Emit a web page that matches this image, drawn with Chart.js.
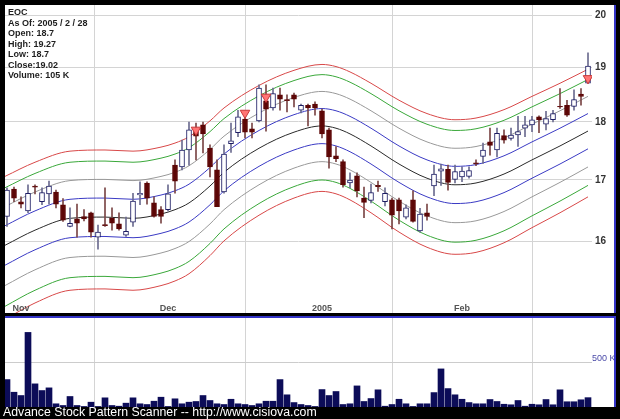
<!DOCTYPE html>
<html>
<head>
<meta charset="utf-8">
<script src="https://cdn.jsdelivr.net/npm/chart.js@4.4.1/dist/chart.umd.min.js"></script>
<style>
html, body { margin: 0; padding: 0; background: #000; }
body { width: 620px; height: 419px; position: relative; overflow: hidden; font-family: "Liberation Sans", Arial, sans-serif; }
#pricebox { position: absolute; left: 5px; top: 5px; width: 611px; height: 308px; background: #fff; border-right: 2px solid #3434c8; box-sizing: border-box; }
#volbox { position: absolute; left: 5px; top: 316px; width: 611px; height: 91px; background: #fff; border-top: 2px solid #3434c8; border-right: 2px solid #3434c8; box-sizing: border-box; }
#foot { position: absolute; left: 3px; top: 405px; color: #fff; font-size: 12.3px; white-space: nowrap; }
canvas { display: block; }
</style>
</head>
<body>
<div id="pricebox"><canvas id="price" width="609" height="308"></canvas></div>
<div id="volbox"><canvas id="volume" width="609" height="89"></canvas></div>
<div id="foot">Advance Stock Pattern Scanner -- http://www.cisiova.com</div>
<script>
/* data: EOC daily candles, 2004-10-28 .. 2005-02-28 (trading day index 0..83) */
var opens = [16.40,16.85,16.64,16.49,16.90,16.64,16.77,16.80,16.59,16.24,
  16.36,16.40,16.46,16.07,16.27,16.37,16.28,16.10,16.31,16.75,
  16.95,16.62,16.51,16.51,17.25,17.22,17.51,17.84,17.95,17.54,
  17.17,16.80,17.62,17.81,18.05,17.88,18.02,18.38,18.25,18.49,
  18.40,18.49,18.21,18.30,18.32,18.20,17.86,17.41,17.31,16.95,
  17.07,16.70,16.66,16.91,16.64,16.67,16.67,16.39,16.67,16.17,
  16.46,16.90,17.15,17.18,17.01,17.05,17.06,17.29,17.40,17.65,
  17.51,17.76,17.71,17.77,17.89,17.95,18.09,17.96,18.04,18.28,
  18.30,18.28,18.50,18.70];
var highs = [16.87,16.88,16.72,16.92,16.92,16.87,16.98,16.83,16.69,16.54,
  16.60,16.51,16.47,16.26,16.87,16.54,16.46,16.39,16.78,16.97,
  16.97,16.72,16.56,16.92,17.34,17.68,18.00,17.98,18.00,17.60,
  17.34,17.60,17.98,18.21,18.09,17.98,18.67,18.67,18.61,18.61,
  18.49,18.52,18.32,18.32,18.36,18.23,17.89,17.57,17.34,17.12,
  17.12,16.88,16.93,16.98,16.87,16.70,16.70,16.59,16.82,16.53,
  16.60,17.25,17.27,17.25,17.25,17.22,17.22,17.34,17.63,17.89,
  17.89,17.86,17.89,18.10,18.10,18.10,18.11,18.19,18.21,18.60,
  18.39,18.58,18.60,19.27];
var lows = [16.24,16.64,16.54,16.46,16.77,16.59,16.60,16.54,16.32,16.23,
  16.07,16.33,16.07,15.88,16.24,16.18,16.18,16.08,16.24,16.59,
  16.60,16.39,16.29,16.49,16.78,17.17,17.25,17.34,17.46,17.05,
  16.56,16.78,17.47,17.74,17.72,17.72,18.00,17.84,18.21,18.21,
  18.18,18.27,18.16,17.93,18.12,17.72,17.20,17.31,16.88,16.87,
  16.72,16.38,16.62,16.81,16.57,16.20,16.28,16.36,16.31,16.15,
  16.34,16.74,16.91,16.83,16.95,16.97,17.03,17.24,17.28,17.42,
  17.39,17.63,17.68,17.57,17.74,17.83,17.81,17.86,18.00,18.24,
  18.10,18.21,18.30,18.70];
var closes = [16.83,16.70,16.60,16.78,16.88,16.79,16.90,16.60,16.34,16.29,
  16.29,16.36,16.15,16.15,16.25,16.29,16.20,16.16,16.65,16.78,
  16.70,16.40,16.40,16.77,16.98,17.51,17.86,17.75,17.79,17.22,
  16.56,17.44,17.67,18.09,17.82,17.82,18.61,18.23,18.51,18.41,
  18.38,18.41,18.30,18.25,18.25,17.79,17.39,17.36,16.92,17.00,
  16.82,16.63,16.79,16.89,16.78,16.42,16.49,16.54,16.32,16.44,
  16.40,17.10,17.19,16.96,17.14,17.15,17.16,17.27,17.51,17.59,
  17.80,17.68,17.77,17.83,17.95,18.04,18.04,18.06,18.15,18.27,
  18.12,18.40,18.46,19.02];
// volume in thousands
var volumes = [308,166,129,838,260,185,215,36,17,118,
  17,6,54,6,103,17,9,43,103,36,
  28,65,110,6,92,36,54,62,129,73,
  36,28,87,36,28,17,36,65,65,308,
  137,50,28,17,6,196,129,174,28,36,
  237,62,95,193,9,28,87,36,6,36,
  36,162,428,207,137,87,50,36,36,84,
  62,31,25,73,9,31,25,84,25,193,
  59,59,81,105];

// centre line of the channel, read at a few trading days
var centerIdx = [-0.3, 4, 9, 14, 18, 22, 24, 26, 29, 31, 36, 41, 45, 47, 49, 52, 56, 60, 64, 67, 71, 75, 79, 83];
var centerVal = [15.94,16.18,16.37,16.39,16.37,16.44,16.51,16.62,16.90,17.13,17.54,17.82,17.93,17.89,17.79,17.58,17.27,17.03,16.92,16.95,17.10,17.34,17.58,17.84];
// band distance from centre, in dollars
var bandOffset = [0.31, 0.62, 0.93, 1.12];
var bandColors = ['#3a3ac4', '#999999', '#3aa83a', '#d84848'];

// sell signals (down triangles)
var signalIdx = [27, 34, 37, 83];
var signalVal = [17.86, 18.16, 18.45, 18.79];

var monthIdx = [2, 23, 45, 65];
var monthLabels = ['Nov', 'Dec', '2005', 'Feb'];
var priceTicks = [16, 17, 18, 19, 20];
var volTicks = [500];

var infoLines = ['EOC', 'As Of: 2005 / 2 / 28', 'Open: 18.7', 'High: 19.27', 'Low: 18.7', 'Close:19.02', 'Volume: 105 K'];

var xMin = -0.2857, xMax = 83.571;

/* build datasets */
var wickData = [], bodyData = [], bodyFill = [], bodyBorder = [], wickColor = [];
for (var i = 0; i < opens.length; i++) {
  wickData.push({ x: i, y: [lows[i], highs[i]] });
  bodyData.push({ x: i, y: [opens[i], closes[i]] });
  var up = closes[i] >= opens[i];
  bodyFill.push(up ? '#ffffff' : '#5c0606');
  bodyBorder.push(up ? '#1c1c64' : '#5c0606');
  wickColor.push(up ? '#6c6c90' : '#7a4646');
}

var datasets = [];
datasets.push({
  type: 'line', data: signalIdx.map(function (x, j) { return { x: x, y: signalVal[j] }; }),
  showLine: false, pointStyle: 'triangle', rotation: 180, pointRadius: 5.5,
  backgroundColor: '#ff7474', borderColor: '#c83838', borderWidth: 1, order: 0
});
datasets.push({
  type: 'bar', data: bodyData, barThickness: 5, grouped: false,
  backgroundColor: bodyFill, borderColor: bodyBorder, borderWidth: 1, borderSkipped: false, order: 1
});
datasets.push({
  type: 'bar', data: wickData, barThickness: 1, grouped: false,
  backgroundColor: wickColor, borderWidth: 0, order: 2
});
function bandLine(d, color) {
  return {
    type: 'line', data: centerIdx.map(function (x, j) { return { x: x, y: centerVal[j] + d }; }),
    borderColor: color, borderWidth: 1, pointRadius: 0, cubicInterpolationMode: 'monotone', order: 3
  };
}
datasets.push(bandLine(0, '#2a2a2a'));
bandOffset.forEach(function (d, k) {
  datasets.push(bandLine(d, bandColors[k]));
  datasets.push(bandLine(-d, bandColors[k]));
});

var FONT = '"Liberation Sans", Arial, sans-serif';

var priceText = {
  id: 'priceText',
  afterDraw: function (chart) {
    var ctx = chart.ctx, xs = chart.scales.x, ys = chart.scales.y, area = chart.chartArea;
    ctx.save();
    ctx.textBaseline = 'middle';
    // month labels inside the plot, at the bottom
    ctx.font = 'bold 9px ' + FONT;
    ctx.fillStyle = '#555';
    ctx.textAlign = 'center';
    monthIdx.forEach(function (m, j) {
      ctx.fillText(monthLabels[j], xs.getPixelForValue(m), area.bottom - 4);
    });
    // price labels on the right
    ctx.font = 'bold 10px ' + FONT;
    ctx.fillStyle = '#333';
    ctx.textAlign = 'left';
    priceTicks.forEach(function (v) {
      ctx.fillText(String(v), area.right + 3, ys.getPixelForValue(v));
    });
    // quote box
    ctx.font = 'bold 9px ' + FONT;
    ctx.fillStyle = '#1e1e1e';
    infoLines.forEach(function (t, j) {
      ctx.fillText(t, 3, 8 + j * 10.5);
    });
    ctx.restore();
  }
};

var volText = {
  id: 'volText',
  afterDraw: function (chart) {
    var ctx = chart.ctx, ys = chart.scales.y, area = chart.chartArea;
    ctx.save();
    ctx.font = '9px ' + FONT;
    ctx.fillStyle = '#4a4aa8';
    ctx.textAlign = 'left';
    ctx.textBaseline = 'bottom';
    volTicks.forEach(function (v) {
      ctx.fillText(v + ' K', area.right, ys.getPixelForValue(v) + 1);
    });
    ctx.restore();
  }
};

function xAxis() {
  return {
    type: 'linear', min: xMin, max: xMax, offset: false,
    afterBuildTicks: function (s) { s.ticks = monthIdx.map(function (v) { return { value: v }; }); },
    ticks: { display: false },
    grid: { color: '#d4d4d4', drawTicks: false },
    border: { display: false },
    afterFit: function (s) { s.height = 0; }
  };
}

new Chart(document.getElementById('price'), {
  type: 'bar',
  data: { datasets: datasets },
  options: {
    responsive: false, animation: false,
    layout: { padding: 0, autoPadding: false },
    plugins: { legend: { display: false }, tooltip: { enabled: false } },
    scales: {
      x: xAxis(),
      y: {
        type: 'logarithmic', position: 'right', min: 14.912, max: 20.199,
        afterBuildTicks: function (s) { s.ticks = priceTicks.map(function (v) { return { value: v }; }); },
        ticks: { display: false },
        grid: { color: '#d4d4d4', drawTicks: false },
        border: { display: false },
        afterFit: function (s) { s.width = 22; }
      }
    }
  },
  plugins: [priceText]
});

new Chart(document.getElementById('volume'), {
  type: 'bar',
  data: {
    datasets: [{
      data: volumes.map(function (v, i) { return { x: i, y: v }; }),
      backgroundColor: '#0c0c58', barThickness: 6, borderWidth: 0
    }]
  },
  options: {
    responsive: false, animation: false,
    layout: { padding: 0, autoPadding: false },
    plugins: { legend: { display: false }, tooltip: { enabled: false } },
    scales: {
      x: xAxis(),
      y: {
        position: 'right', min: 0, max: 1000,
        afterBuildTicks: function (s) { s.ticks = volTicks.map(function (v) { return { value: v }; }); },
        ticks: { display: false },
        grid: { color: '#cccccc', drawTicks: false },
        border: { display: false },
        afterFit: function (s) { s.width = 22; }
      }
    }
  },
  plugins: [volText]
});
</script>
</body>
</html>
